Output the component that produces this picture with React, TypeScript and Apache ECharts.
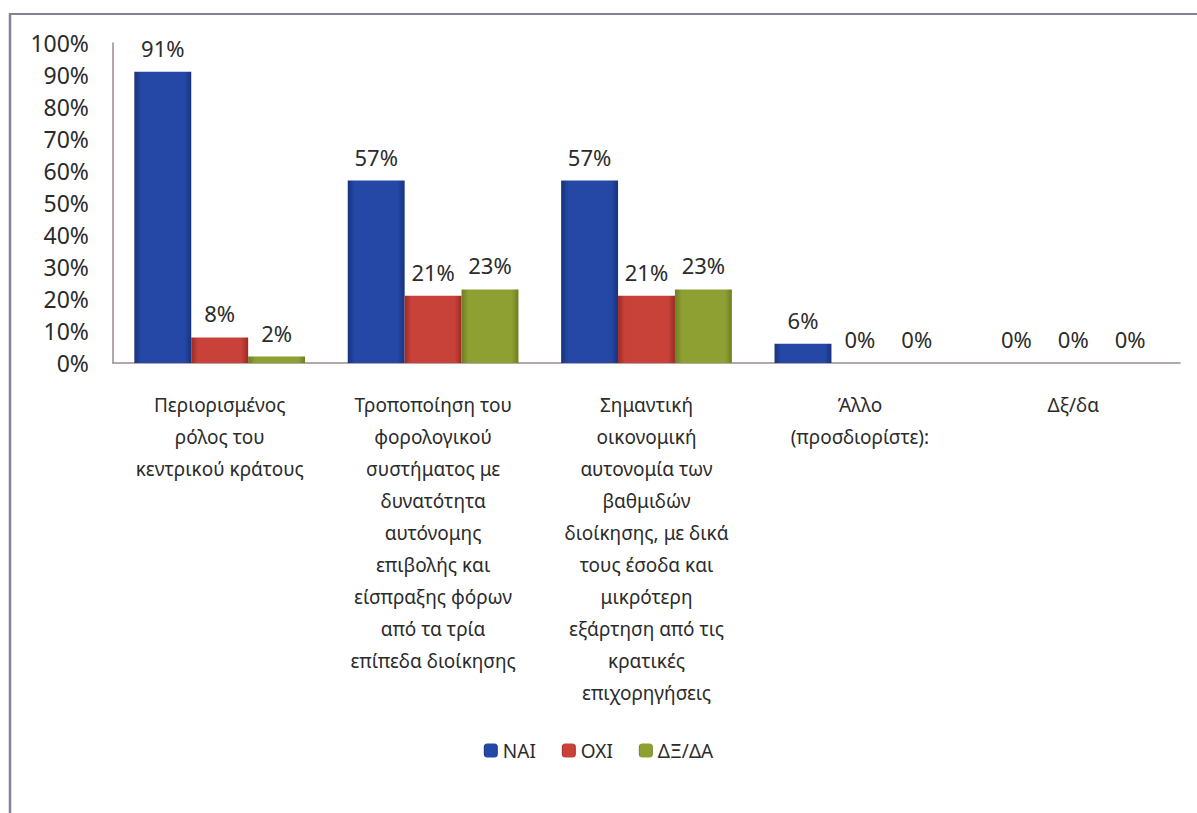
import React, { useEffect, useRef } from "react";
import * as echarts from "echarts";

const categories = [
  "Περιορισμένος\nρόλος του\nκεντρικού κράτους",
  "Τροποποίηση του\nφορολογικού\nσυστήματος με\nδυνατότητα\nαυτόνομης\nεπιβολής και\nείσπραξης φόρων\nαπό τα τρία\nεπίπεδα διοίκησης",
  "Σημαντική\nοικονομική\nαυτονομία των\nβαθμιδών\nδιοίκησης, με δικά\nτους έσοδα και\nμικρότερη\nεξάρτηση από τις\nκρατικές\nεπιχορηγήσεις",
  "Άλλο\n(προσδιορίστε):",
  "Δξ/δα",
];
const seriesNames = ["ΝΑΙ", "ΟΧΙ", "ΔΞ/ΔΑ"];
const naiValues = [91, 57, 57, 6, 0];
const oxiValues = [8, 21, 21, 0, 0];
const dkValues = [2, 23, 23, 0, 0];

const FONT = "'Noto Sans', 'Open Sans', sans-serif";
const TEXT = "#2b2b2b";

function grad(edge: string, mid: string) {
  return new echarts.graphic.LinearGradient(0, 0, 1, 0, [
    { offset: 0, color: edge },
    { offset: 0.12, color: mid },
    { offset: 0.88, color: mid },
    { offset: 1, color: edge },
  ]);
}

export default function App() {
  const ref = useRef<HTMLDivElement>(null);
  useEffect(() => {
    if (!ref.current) return;
    const chart = echarts.init(ref.current, null, { renderer: "svg" });
    const label = {
      show: true,
      position: "top" as const,
      distance: 13,
      formatter: "{c}%",
      fontFamily: FONT,
      fontSize: 22,
      color: TEXT,
    };
    const mk = (name: string, data: number[], edge: string, mid: string) => ({
      name,
      type: "bar" as const,
      data,
      barGap: "0%",
      barCategoryGap: "20%",
      label,
      itemStyle: { color: grad(edge, mid), borderWidth: 0 },
    });
    chart.setOption({
      animation: false,
      backgroundColor: "#ffffff",
      color: ["#2a4a9c", "#b8403a", "#7f8a3a"],
      grid: { left: 113, top: 43, right: 17, height: 320 },
      legend: {
        bottom: 48,
        left: "center",
        itemWidth: 14,
        itemHeight: 14,
        itemGap: 26,
        icon: "roundRect",
        textStyle: { fontFamily: FONT, fontSize: 19, color: TEXT },
        data: seriesNames,
      },
      xAxis: {
        type: "category",
        data: categories,
        axisLine: { lineStyle: { color: "#9a8a90", width: 1.5 } },
        axisTick: { show: false },
        axisLabel: {
          interval: 0,
          margin: 26,
          fontFamily: FONT,
          fontSize: 19,
          lineHeight: 32,
          color: TEXT,
          align: "center",
          verticalAlign: "top",
        },
      },
      yAxis: {
        type: "value",
        min: 0,
        max: 100,
        interval: 10,
        axisLine: { show: true, lineStyle: { color: "#9a8a90", width: 1.5 } },
        axisTick: { show: false },
        splitLine: { show: false },
        axisLabel: {
          formatter: "{value}%",
          margin: 24,
          fontFamily: FONT,
          fontSize: 23,
          color: TEXT,
        },
      },
      graphic: [
        { type: "line", shape: { x1: 10, y1: 13, x2: 10, y2: 813 }, style: { stroke: "#8a8092", lineWidth: 2.5 } },
        { type: "line", shape: { x1: 10, y1: 14, x2: 1197, y2: 14 }, style: { stroke: "#8a8092", lineWidth: 2 } },
      ],
      series: [
        mk(seriesNames[0], naiValues, "#17337d", "#2548a6"),
        mk(seriesNames[1], oxiValues, "#9c2a24", "#c8423a"),
        mk(seriesNames[2], dkValues, "#6e7e22", "#8ea032"),
      ],
    });
    return () => chart.dispose();
  }, []);
  return (
    <div
      ref={ref}
      style={{ position: "fixed", left: 0, top: 0, width: 1197, height: 813 }}
    />
  );
}
